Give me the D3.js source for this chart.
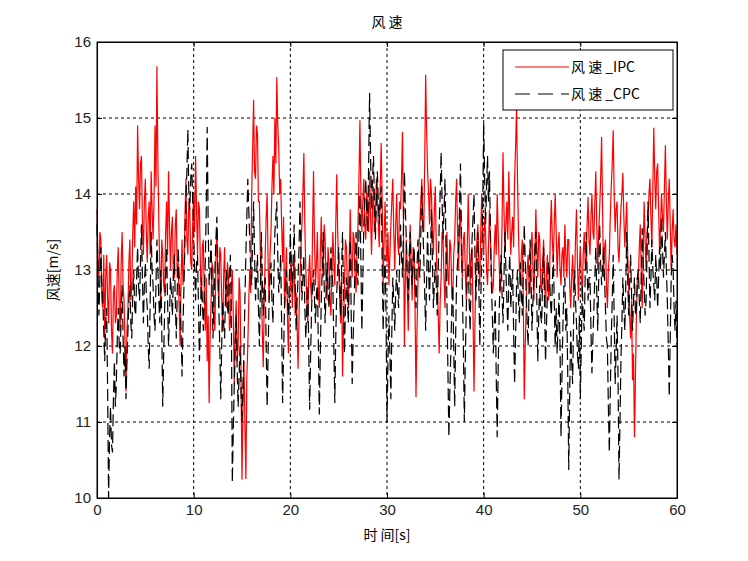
<!DOCTYPE html>
<meta charset="utf-8">
<script src="https://d3js.org/d3.v7.min.js"></script>
<style>
  body { margin: 0; background: #fff; }
  .cjk { font-family: "Noto Sans CJK SC", sans-serif; }
</style>
<div id="chart"></div>
<script>

// sampling step of both series, seconds
var step = 0.1;

// 风速_IPC, one row per second (10 samples each), plus t = 60
var ipc = [
  13.8, 13.1, 12.9, 13.5, 13.4, 12.6, 12.5, 13.2, 12.1, 12.9,
  13.2, 12.6, 12.3, 13.1, 13.0, 12.2, 11.9, 12.7, 12.8, 12.3,
  12.4, 13.0, 13.3, 12.5, 12.2, 13.1, 13.5, 12.8, 12.6, 12.0,
  11.4, 12.2, 12.5, 13.1, 13.4, 12.6, 12.8, 13.5, 13.9, 13.3,
  14.1, 13.6, 14.9, 14.2, 13.8, 14.4, 14.5, 13.6, 13.2, 13.9,
  14.2, 13.5, 13.1, 13.7, 13.9, 13.2, 14.3, 13.8, 13.4, 13.9,
  14.9, 14.1, 15.68, 14.4, 13.6, 13.0, 12.5, 13.4, 13.2, 12.8,
  12.7, 13.5, 13.9, 13.2, 14.3, 13.6, 13.0, 13.5, 13.7, 12.9,
  12.9, 13.6, 13.8, 12.9, 13.1, 12.5, 12.0, 12.9, 13.4, 12.8,
  13.0, 13.7, 14.2, 13.4, 13.2, 13.9, 13.8, 13.1, 13.0, 13.6,
  14.0, 13.5, 14.5, 13.8, 13.2, 13.9, 13.8, 13.0, 12.6, 13.3,
  13.4, 12.7, 12.2, 12.9, 11.8, 12.4, 11.25, 12.1, 12.6, 13.1,
  13.0, 12.4, 12.2, 13.1, 13.57, 12.9, 12.5, 13.3, 13.2, 12.6,
  12.2, 12.9, 13.3, 12.6, 12.5, 13.1, 12.9, 12.2, 12.3, 12.8,
  13.0, 12.4, 11.5, 12.2, 12.6, 11.8, 12.0, 12.9, 12.7, 11.6,
  10.24, 11.2, 11.8, 11.0, 10.25, 11.6, 12.0, 12.6, 13.0, 12.7,
  14.0, 14.6, 15.24, 14.3, 14.2, 14.9, 14.8, 13.9, 13.9, 13.2,
  12.8, 12.2, 11.72, 12.6, 13.2, 13.7, 14.0, 13.1, 12.6, 13.2,
  13.5, 14.1, 14.5, 14.0, 15.0, 14.4, 15.54, 14.9, 14.6, 14.0,
  14.2, 13.6, 13.1, 13.7, 12.5, 12.9, 13.3, 12.4, 11.9, 12.6,
  12.8, 13.2, 12.5, 12.9, 13.2, 12.4, 12.7, 12.3, 11.7, 12.4,
  12.9, 13.3, 13.6, 14.0, 14.54, 13.6, 13.0, 12.6, 12.3, 12.9,
  13.2, 12.8, 12.6, 13.5, 14.3, 13.4, 12.8, 13.1, 13.5, 12.7,
  12.5, 13.2, 13.7, 13.1, 12.9, 13.6, 13.4, 12.8, 12.6, 13.3,
  13.1, 12.6, 12.4, 13.0, 13.5, 13.1, 12.8, 13.6, 14.26, 13.5,
  13.0, 12.7, 12.3, 12.9, 11.6, 12.3, 12.8, 13.4, 13.3, 12.8,
  12.5, 13.2, 13.8, 13.1, 12.9, 13.5, 13.4, 12.9, 12.7, 13.3,
  13.6, 14.2, 14.97, 14.0, 13.5, 13.9, 14.2, 13.6, 13.4, 14.0,
  13.9, 13.5, 14.3, 13.7, 13.2, 13.8, 14.1, 13.5, 13.6, 14.2,
  14.0, 13.6, 13.3, 14.1, 14.67, 13.9, 12.8, 13.4, 13.9, 13.3,
  13.1, 13.5, 12.8, 13.2, 13.6, 13.9, 14.2, 13.5, 13.0, 13.6,
  14.0, 13.4, 13.2, 13.9, 13.8, 14.2, 14.82, 13.6, 12.0, 12.9,
  13.4, 12.8, 12.2, 13.0, 13.6, 13.1, 12.6, 13.3, 13.2, 12.5,
  11.33, 12.2, 12.8, 13.3, 13.6, 13.9, 14.2, 13.6, 13.5, 14.4,
  15.57, 14.8, 14.3, 14.0, 13.6, 14.2, 14.0, 13.5, 13.2, 13.8,
  14.1, 13.3, 12.8, 12.4, 11.9, 12.6, 12.9, 13.5, 13.4, 12.9,
  12.5, 13.1, 13.5, 12.9, 12.8, 13.4, 13.3, 12.7, 12.6, 13.2,
  13.4, 13.9, 14.2, 13.5, 13.0, 13.6, 13.8, 13.2, 12.9, 13.4,
  13.5, 13.0, 12.6, 13.3, 14.0, 13.4, 12.8, 13.2, 13.3, 12.4,
  11.4, 12.3, 13.0, 13.4, 13.6, 13.1, 12.8, 13.5, 14.0, 13.4,
  13.2, 13.7, 13.5, 13.0, 12.8, 13.3, 13.8, 13.4, 13.0, 12.7,
  12.8, 13.3, 13.6, 13.2, 14.0, 13.5, 13.1, 12.7, 12.9, 13.6,
  14.55, 13.8, 13.3, 13.6, 13.9, 13.4, 14.3, 13.7, 13.2, 13.5,
  13.7, 13.3, 14.2, 14.6, 15.15, 14.2, 13.5, 13.0, 12.8, 13.2,
  13.4, 12.6, 11.3, 12.0, 12.5, 13.0, 13.2, 12.8, 12.7, 13.3,
  13.5, 13.0, 12.6, 13.2, 13.8, 13.3, 12.9, 13.5, 13.4, 12.8,
  12.7, 13.1, 13.4, 12.9, 12.5, 13.0, 13.2, 12.6, 12.8, 13.5,
  13.92, 13.4, 13.1, 13.6, 14.0, 13.5, 12.9, 13.3, 13.5, 13.0,
  12.8, 13.2, 13.3, 12.9, 13.6, 13.2, 12.9, 13.4, 13.4, 12.8,
  12.5, 12.9, 13.2, 12.7, 12.8, 13.4, 13.8, 13.1, 12.6, 13.0,
  13.3, 12.9, 12.7, 13.2, 13.5, 13.1, 13.0, 13.6, 13.96, 13.4,
  13.2, 13.7, 14.0, 13.5, 13.4, 13.9, 14.3, 13.6, 13.0, 13.5,
  13.8, 14.2, 14.75, 13.8, 12.9, 13.3, 13.4, 12.8, 12.5, 13.0,
  13.2, 13.7, 14.1, 14.4, 14.84, 14.0, 13.5, 13.8, 13.9, 13.3,
  13.1, 13.5, 13.8, 14.0, 14.28, 13.7, 13.3, 13.6, 13.9, 13.2,
  12.8, 12.4, 12.1, 12.6, 11.55, 11.9, 10.8, 11.6, 12.4, 12.9,
  12.9, 13.3, 13.6, 13.0, 12.5, 13.2, 13.9, 13.4, 13.0, 13.5,
  13.6, 14.0, 14.2, 13.7, 13.3, 14.1, 14.87, 14.2, 13.8, 14.3,
  14.4, 13.8, 13.2, 13.6, 14.0, 13.7, 13.5, 14.1, 14.64, 13.9,
  13.4, 13.9, 14.2, 13.6, 13.0, 13.5, 13.8, 13.4, 13.3, 13.6,
  13.2
];

// 风速_CPC
var cpc = [
  13.6, 13.0, 12.4, 12.9, 13.3, 12.8, 12.6, 12.2, 11.8, 12.3,
  12.5, 11.4, 10.0, 10.8, 11.2, 10.7, 10.6, 11.3, 11.8, 11.2,
  11.5, 12.1, 12.5, 12.0, 11.9, 12.4, 12.8, 12.1, 11.6, 12.0,
  11.3, 11.8, 12.2, 12.6, 12.8, 12.3, 12.1, 12.7, 13.0, 12.5,
  12.4, 12.9, 13.3, 12.8, 12.6, 13.1, 13.6, 12.9, 12.3, 12.8,
  13.1, 12.7, 12.5, 12.0, 11.7, 12.6, 13.5, 13.0, 12.8, 12.4,
  12.2, 12.8, 13.4, 13.0, 12.6, 12.3, 13.0, 12.2, 11.2, 11.9,
  12.5, 12.9, 13.3, 12.6, 12.0, 12.4, 12.9, 12.7, 12.4, 12.9,
  13.2, 12.6, 12.1, 12.7, 13.3, 12.9, 12.6, 12.2, 11.6, 12.3,
  12.8, 13.4, 13.9, 14.3, 14.85, 14.0, 13.8, 14.2, 14.4, 13.9,
  13.5, 13.0, 12.6, 13.1, 13.2, 12.5, 11.8, 12.4, 12.9, 12.6,
  12.2, 12.7, 13.1, 13.8, 14.88, 13.6, 12.8, 13.0, 13.4, 12.8,
  12.1, 12.6, 13.0, 13.4, 13.7, 13.1, 12.5, 12.0, 11.3, 12.0,
  12.6, 12.3, 12.1, 12.7, 13.0, 12.5, 12.4, 12.9, 13.2, 12.4,
  10.2, 10.9, 11.5, 12.0, 12.4, 11.7, 11.2, 11.6, 12.0, 11.4,
  11.0, 11.5, 11.9, 12.6, 13.2, 13.7, 14.2, 13.8, 13.4, 13.0,
  12.8, 13.4, 13.9, 13.2, 12.6, 12.9, 13.2, 12.5, 12.0, 12.7,
  13.5, 12.9, 12.4, 12.8, 12.9, 12.0, 11.2, 11.9, 12.6, 12.9,
  13.1, 12.6, 12.3, 12.9, 13.5, 13.7, 13.9, 13.2, 12.7, 12.9,
  13.2, 12.3, 11.25, 11.9, 12.5, 12.8, 13.0, 12.6, 12.4, 12.9,
  13.5, 13.0, 12.7, 13.2, 13.6, 12.8, 12.2, 12.6, 12.9, 13.3,
  13.9, 13.2, 12.6, 12.9, 13.2, 12.5, 12.1, 12.5, 12.8, 12.0,
  11.16, 11.9, 12.5, 12.8, 13.0, 12.6, 12.3, 12.7, 12.8, 12.0,
  11.1, 11.9, 12.6, 13.0, 13.5, 12.8, 12.3, 12.7, 13.1, 12.8,
  12.5, 12.9, 13.3, 13.0, 12.8, 12.0, 11.25, 12.1, 12.7, 13.0,
  13.3, 12.8, 12.4, 13.0, 13.5, 12.7, 11.9, 12.5, 12.9, 12.6,
  12.3, 12.9, 13.4, 12.4, 11.5, 12.1, 12.6, 13.1, 13.5, 13.0,
  12.8, 13.5, 14.0, 13.1, 12.2, 12.9, 13.6, 13.9, 14.2, 13.8,
  13.5, 14.4, 15.33, 14.5, 13.8, 14.2, 14.5, 13.9, 13.4, 13.9,
  14.3, 13.9, 13.6, 13.9, 14.1, 13.1, 12.2, 12.8, 13.2, 12.4,
  11.0, 11.8, 12.4, 11.9, 11.3, 12.2, 12.9, 12.6, 12.2, 12.7,
  13.0, 12.7, 12.5, 13.1, 13.6, 13.2, 12.9, 13.5, 14.3, 13.8,
  13.4, 12.9, 12.6, 13.2, 13.5, 13.0, 12.8, 13.1, 13.3, 12.9,
  12.5, 13.0, 13.4, 13.1, 12.9, 13.5, 14.1, 13.6, 13.2, 12.7,
  12.2, 12.9, 13.5, 13.0, 12.6, 13.2, 13.8, 13.1, 12.5, 12.8,
  13.1, 12.8, 12.4, 13.0, 13.6, 14.0, 14.55, 13.9, 13.4, 13.8,
  14.2, 13.3, 12.6, 11.7, 10.8, 11.4, 11.9, 12.5, 12.8, 12.0,
  11.2, 12.1, 12.9, 13.1, 13.3, 13.8, 14.4, 13.5, 12.7, 12.0,
  11.0, 11.8, 12.5, 12.9, 13.1, 12.6, 12.2, 12.9, 13.4, 13.7,
  14.0, 13.2, 12.6, 13.0, 13.5, 12.8, 12.0, 12.6, 13.2, 13.8,
  14.93, 14.2, 13.6, 14.1, 14.5, 13.9, 14.3, 13.5, 12.8, 12.4,
  11.9, 12.3, 12.6, 11.6, 10.8, 11.7, 12.4, 12.9, 13.2, 12.7,
  12.3, 12.9, 13.5, 13.0, 12.6, 12.2, 12.9, 13.2, 12.5, 12.8,
  13.0, 12.2, 11.5, 12.1, 12.8, 13.0, 12.6, 12.3, 13.1, 12.7,
  12.4, 13.0, 13.6, 13.1, 12.7, 12.3, 12.0, 12.8, 13.4, 12.9,
  12.2, 12.6, 12.9, 13.3, 13.5, 12.6, 11.8, 12.4, 12.8, 12.4,
  12.3, 12.9, 13.3, 12.5, 11.8, 12.3, 12.7, 13.1, 13.0, 12.6,
  12.4, 12.8, 13.2, 12.6, 12.0, 12.5, 11.9, 12.3, 12.7, 12.0,
  10.8, 11.6, 12.3, 12.8, 12.9, 12.2, 12.5, 11.6, 10.37, 11.4,
  12.2, 11.8, 11.5, 12.3, 13.0, 12.6, 12.3, 11.9, 11.7, 12.4,
  11.3, 12.0, 12.8, 12.4, 12.2, 12.9, 13.5, 13.0, 12.6, 12.9,
  12.9, 12.2, 11.64, 12.1, 12.5, 12.9, 13.3, 12.7, 12.2, 12.9,
  13.6, 13.1, 12.8, 13.0, 13.3, 12.9, 12.5, 12.1, 12.0, 11.2,
  10.6, 11.4, 12.1, 12.6, 13.2, 12.4, 11.5, 11.9, 12.4, 11.6,
  10.24, 11.0, 11.8, 12.3, 12.9, 12.5, 12.2, 12.8, 13.5, 12.9,
  12.4, 12.8, 13.2, 12.7, 12.2, 12.6, 12.9, 12.4, 12.5, 12.9,
  13.0, 12.6, 12.3, 12.9, 13.55, 13.1, 12.8, 12.4, 12.6, 13.2,
  13.9, 13.2, 12.5, 12.9, 13.4, 13.0, 12.8, 12.6, 13.2, 12.9,
  12.5, 12.9, 13.3, 13.0, 13.7, 13.3, 12.9, 13.2, 13.5, 13.0,
  12.6, 12.0, 11.33, 12.1, 12.9, 13.2, 13.0, 12.5, 12.2, 12.6,
  12.0
];

var xTicks = [0, 10, 20, 30, 40, 50, 60];
var yTicks = [10, 11, 12, 13, 14, 15, 16];
var seriesNames = ["风 速 _IPC", "风 速 _CPC"];

var W = 748, H = 561;
var margin = {top: 42, right: 71, bottom: 63, left: 97},
    width = W - margin.left - margin.right,
    height = H - margin.top - margin.bottom;

var svg = d3.select("#chart")
  .append("svg")
    .attr("width", W)
    .attr("height", H);

var g = svg.append("g")
    .attr("transform", "translate(" + margin.left + "," + margin.top + ")");

var x = d3.scaleLinear().domain([0, 60]).range([0, width]);
var y = d3.scaleLinear().domain([10, 16]).range([height, 0]);

// grid (dotted, MATLAB style)
g.selectAll(".vgrid")
  .data(xTicks.slice(1, -1))
  .enter().append("line")
    .attr("x1", function(d) { return x(d); })
    .attr("x2", function(d) { return x(d); })
    .attr("y1", 0).attr("y2", height)
    .attr("stroke", "#000").attr("stroke-width", 1)
    .attr("stroke-dasharray", "3,3");

g.selectAll(".hgrid")
  .data(yTicks.slice(1, -1))
  .enter().append("line")
    .attr("x1", 0).attr("x2", width)
    .attr("y1", function(d) { return y(d); })
    .attr("y2", function(d) { return y(d); })
    .attr("stroke", "#000").attr("stroke-width", 1)
    .attr("stroke-dasharray", "3,3");

var line = d3.line()
  .x(function(d, i) { return x(i * step); })
  .y(function(d) { return y(d); });

g.append("path")
  .datum(ipc)
  .attr("fill", "none")
  .attr("stroke", "#ff0000")
  .attr("stroke-width", 1.2)
  .attr("d", line);

g.append("path")
  .datum(cpc)
  .attr("fill", "none")
  .attr("stroke", "#000")
  .attr("stroke-width", 1.2)
  .attr("stroke-dasharray", "12,5")
  .attr("d", line);

// axes, ticks pointing inwards
var fmt = d3.format("d");
g.append("g")
  .attr("transform", "translate(0," + height + ")")
  .call(d3.axisBottom(x).tickValues(xTicks).tickFormat(fmt).tickSizeInner(-5).tickSizeOuter(0).tickPadding(6));
g.append("g")
  .call(d3.axisLeft(y).tickValues(yTicks).tickFormat(fmt).tickSizeInner(-5).tickSizeOuter(0).tickPadding(6));
g.append("g")
  .call(d3.axisTop(x).tickValues(xTicks).tickSizeInner(-5).tickSizeOuter(0).tickFormat(""));
g.append("g")
  .attr("transform", "translate(" + width + ",0)")
  .call(d3.axisRight(y).tickValues(yTicks).tickSizeInner(-5).tickSizeOuter(0).tickFormat(""));

svg.selectAll(".tick text")
  .attr("font-family", "'Liberation Sans', Arial, sans-serif")
  .attr("font-size", 15)
  .attr("fill", "#222");
svg.selectAll(".domain").attr("stroke", "#000");

// box
g.append("rect")
  .attr("width", width).attr("height", height)
  .attr("fill", "none").attr("stroke", "#000");

// title and labels
svg.append("text")
  .attr("class", "cjk")
  .attr("x", margin.left + width / 2).attr("y", 27)
  .attr("text-anchor", "middle")
  .attr("font-size", 14)
  .text("风 速");

svg.append("text")
  .attr("class", "cjk")
  .attr("x", margin.left + width / 2).attr("y", 540)
  .attr("text-anchor", "middle")
  .attr("font-size", 14)
  .text("时 间[s]");

svg.append("text")
  .attr("class", "cjk")
  .attr("transform", "translate(58," + (margin.top + height / 2) + ") rotate(-90)")
  .attr("text-anchor", "middle")
  .attr("font-size", 14)
  .text("风速[m/s]");

// legend
var leg = svg.append("g").attr("transform", "translate(503,50)");
leg.append("rect")
  .attr("width", 170).attr("height", 60)
  .attr("fill", "#fff").attr("stroke", "#000");

var legItems = leg.selectAll(".item")
  .data(seriesNames)
  .enter().append("g")
    .attr("transform", function(d, i) { return "translate(0," + (17 + i * 27) + ")"; });

legItems.append("line")
  .attr("x1", 12).attr("x2", 66)
  .attr("stroke", function(d, i) { return i == 0 ? "#ff0000" : "#000"; })
  .attr("stroke-dasharray", function(d, i) { return i == 0 ? null : "15,8"; });

legItems.append("text")
  .attr("class", "cjk")
  .attr("x", 68).attr("y", 5)
  .attr("font-size", 14)
  .text(function(d) { return d; });

</script>
